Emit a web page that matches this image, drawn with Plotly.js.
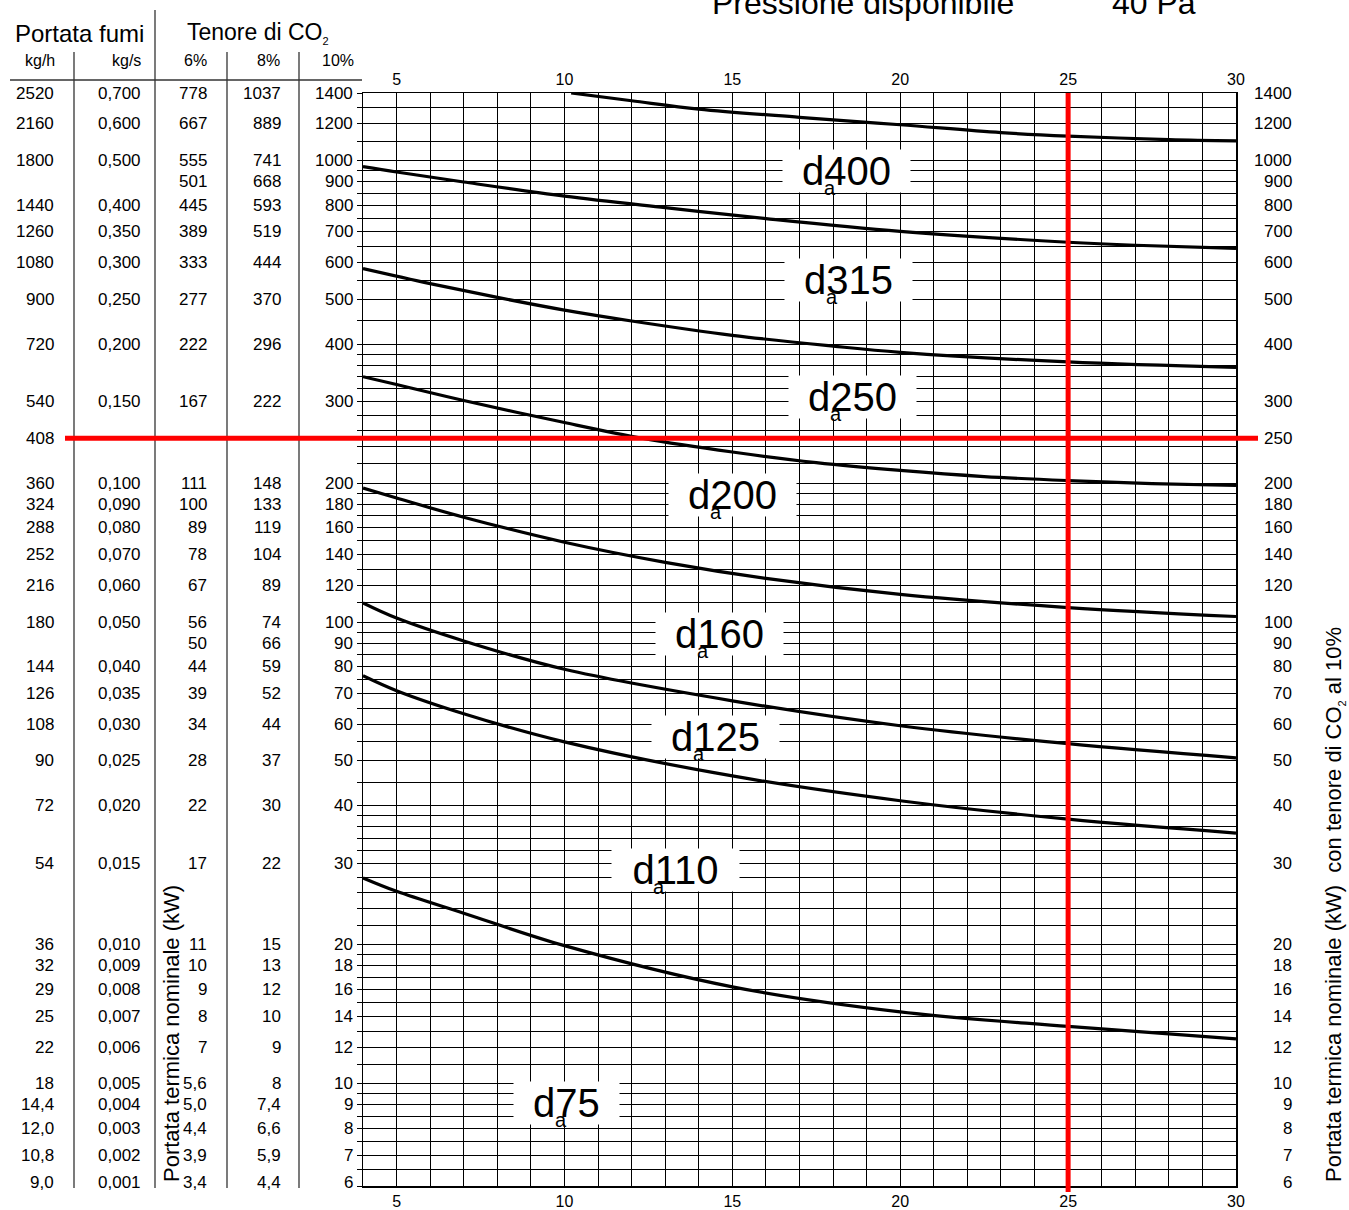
<!DOCTYPE html>
<html><head><meta charset="utf-8">
<script src="https://cdn.plot.ly/plotly-3.0.1.min.js"></script>
<style>html,body{margin:0;padding:0;background:#fff;}#chart{width:1349px;height:1210px;}</style>
</head><body><div id="chart"></div>
<script>
// ---- curve data (x: height, y: nominal heat input kW, CO2 10%) ----
const x_d400 = [10.2, 12, 14, 17, 20, 23, 25, 28, 30];
const y_d400 = [1400, 1347, 1292, 1240, 1195, 1149, 1129, 1110, 1103];
const x_d315 = [4, 5, 7, 10, 13, 16, 20, 25, 27, 30];
const y_d315 = [970, 944, 898, 837, 790, 748, 702, 665, 655, 645];
const x_d250 = [4, 6, 8, 10, 12, 15, 18, 20, 25, 30];
const y_d250 = [583, 541, 505, 474, 449, 418, 396, 384, 366, 356];
const x_d200 = [4, 5, 7, 10, 12.34, 15, 17.5, 20, 22.5, 25, 27.5, 30];
const y_d200 = [340, 327, 302, 270.5, 250, 233.5, 221.5, 213, 206.6, 202.5, 199.5, 197.6];
const x_d160 = [4, 5, 7, 10, 13, 16, 20, 25, 30];
const y_d160 = [195, 185.6, 168.7, 148.9, 134.7, 124.3, 114.8, 107.5, 102.8];
const x_d125 = [4, 5, 7, 10, 15, 20, 25, 30];
const y_d125 = [110, 102, 91, 79, 67.5, 59.6, 54.5, 50.8];
const x_d110 = [4, 5, 7, 10, 15, 20, 25, 30];
const y_d110 = [76.5, 71, 63.3, 55, 46.4, 41, 37.4, 34.9];
const x_d75 = [4, 5, 7, 10, 15, 20, 25, 30];
const y_d75 = [27.9, 26.1, 23.4, 19.9, 16.2, 14.3, 13.3, 12.5];

// ---- table / tick labels ----
const co2_10 = [1400,1200,1000,900,800,700,600,500,400,300,200,180,160,140,120,100,90,80,70,60,50,40,30,20,18,16,14,12,10,9,8,7,6];
const kgh = ['2520','2160','1800','','1440','1260','1080','900','720','540','360','324','288','252','216','180','','144','126','108','90','72','54','36','32','29','25','22','18','14,4','12,0','10,8','9,0'];
const kgs = ['0,700','0,600','0,500','','0,400','0,350','0,300','0,250','0,200','0,150','0,100','0,090','0,080','0,070','0,060','0,050','','0,040','0,035','0,030','0,025','0,020','0,015','0,010','0,009','0,008','0,007','0,006','0,005','0,004','0,003','0,002','0,001'];
const co2_6 = ['778','667','555','501','445','389','333','277','222','167','111','100','89','78','67','56','50','44','39','34','28','22','17','11','10','9','8','7','5,6','5,0','4,4','3,9','3,4'];
const co2_8 = ['1037','889','741','668','593','519','444','370','296','222','148','133','119','104','89','74','66','59','52','44','37','30','22','15','13','12','10','9','8','7,4','6,6','5,9','4,4'];
const extraRowValue = 250, extraRowKgh = '408';
const rightTicks = [1400,1200,1000,900,800,700,600,500,400,300,250,200,180,160,140,120,100,90,80,70,60,50,40,30,20,18,16,14,12,10,9,8,7,6];
const xTicks = [5,10,15,20,25,30];
const gridVals = [6,6.5,7,7.5,8,8.5,9,9.5,10,11,12,13,14,15,16,17,18,19,20,22,24,26,28,30,32,34,36,38,40,45,50,55,60,65,70,75,80,85,90,95,100,110,120,130,140,150,160,170,180,190,200,220,240,260,280,300,320,340,360,380,400,450,500,550,600,650,700,750,800,850,900,950,1000,1100,1200,1300,1400];
const curveNames = ['d400','d315','d250','d200','d160','d125','d110','d75'];
const selX = 25, selY = 250;

// ---- layout helpers ----
const FONT = 'Liberation Sans, Arial, Helvetica, sans-serif';
const W = 1349, H = 1210, X0 = 363, X1 = 1236, YT = 93, YB = 1186;
const pxX = px => (px - X0) / (X1 - X0);
const pxY = py => (YB - py) / (YB - YT);
const L = Math.log10;

const curvesX = [x_d400, x_d315, x_d250, x_d200, x_d160, x_d125, x_d110, x_d75];
const curvesY = [y_d400, y_d315, y_d250, y_d200, y_d160, y_d125, y_d110, y_d75];
const traces = curvesX.map((xs, i) => ({
  x: xs, y: curvesY[i], type: 'scatter', mode: 'lines', name: curveNames[i],
  xaxis: i === 0 ? 'x2' : 'x', yaxis: 'y',
  line: {color: '#000', width: 3.2, shape: 'spline', smoothing: 1},
  hoverinfo: 'skip', showlegend: false
}));

const ann = [];
const txt = (o) => ann.push(Object.assign({showarrow: false, font: {family: FONT, size: 17, color: '#000'}}, o));
const lift = v => (v === 6 ? 4 : 0);

// table rows (incl. 10% column)
const cols = [[kgh, 56], [kgs, 143], [co2_6, 209], [co2_8, 283], [co2_10.map(String), 355]];
co2_10.forEach((v, i) => {
  cols.forEach(([arr, edge]) => {
    if (arr[i]) txt({xref: 'paper', yref: 'y', x: pxX(edge), y: L(v), yshift: lift(v), xanchor: 'right', yanchor: 'middle', text: arr[i]});
  });
});
txt({xref: 'paper', yref: 'y', x: pxX(56), y: L(extraRowValue), xanchor: 'right', yanchor: 'middle', text: extraRowKgh});
// right labels
rightTicks.forEach(v => txt({xref: 'paper', yref: 'y', x: pxX(1294), y: L(v), yshift: lift(v), xanchor: 'right', yanchor: 'middle', text: String(v)}));
// headers
txt({xref: 'paper', yref: 'paper', x: pxX(13), y: pxY(33), xanchor: 'left', yanchor: 'middle', text: 'Portata fumi', font: {family: FONT, size: 24, color: '#000'}});
txt({xref: 'paper', yref: 'paper', x: pxX(185), y: pxY(33), xanchor: 'left', yanchor: 'middle', text: 'Tenore di CO<sub><span style="font-size:11px">2</span></sub>', font: {family: FONT, size: 23, color: '#000'}});
[['kg/h', 57], ['kg/s', 143], ['6%', 209], ['8%', 282], ['10%', 356]].forEach(([t, e]) =>
  txt({xref: 'paper', yref: 'paper', x: pxX(e), y: pxY(61), xanchor: 'right', yanchor: 'middle', text: t, font: {family: FONT, size: 16, color: '#000'}}));
// title (cut at top)
txt({xref: 'paper', yref: 'paper', x: pxX(710), y: pxY(3), xanchor: 'left', yanchor: 'middle', text: 'Pressione disponibile', font: {family: FONT, size: 32, color: '#000'}});
txt({xref: 'paper', yref: 'paper', x: pxX(1110), y: pxY(3), xanchor: 'left', yanchor: 'middle', text: '40 Pa', font: {family: FONT, size: 32, color: '#000'}});
// rotated titles
txt({xref: 'paper', yref: 'paper', x: pxX(171), y: pxY(1034), xanchor: 'center', yanchor: 'middle', textangle: -90, text: 'Portata termica nominale (kW)', font: {family: FONT, size: 22, color: '#000'}});
txt({xref: 'paper', yref: 'paper', x: pxX(1334), y: pxY(905), xanchor: 'center', yanchor: 'middle', textangle: -90, text: 'Portata termica nominale (kW)\u00a0\u00a0con tenore di CO<sub><span style="font-size:11px">2</span></sub> al 10%', font: {family: FONT, size: 22, color: '#000'}});
// curve labels d_a
const labelPos = [[18.41, 947.6], [18.47, 552], [18.59, 307.5], [14.99, 188.3], [14.63, 94.4], [14.51, 56.3], [13.32, 29.0], [10.05, 9.09]];
curveNames.forEach((n, i) => {
  const [lx, ly] = labelPos[i];
  const tw = 22.24 * n.length;
  txt({xref: 'x', yref: 'y', x: lx, y: L(ly), xanchor: 'center', yanchor: 'middle', text: n,
       font: {family: FONT, size: 40, color: '#000'}, bgcolor: '#fff', borderpad: 0, width: tw + 38, height: 42});
  txt({xref: 'x', yref: 'y', x: lx, y: L(ly), xanchor: 'center', yanchor: 'middle', text: 'a',
       xshift: -tw / 2 + 28, yshift: -17, font: {family: FONT, size: 20, color: '#000'}});
});

const shapes = [
  // table rules
  {type: 'line', xref: 'paper', yref: 'paper', x0: pxX(10), x1: pxX(362), y0: pxY(80), y1: pxY(80), line: {color: '#333', width: 1.3}},
  {type: 'line', xref: 'paper', yref: 'paper', x0: pxX(74), x1: pxX(74), y0: pxY(52), y1: pxY(1188), line: {color: '#333', width: 1.3}},
  {type: 'line', xref: 'paper', yref: 'paper', x0: pxX(155), x1: pxX(155), y0: pxY(10), y1: pxY(1188), line: {color: '#333', width: 1.3}},
  {type: 'line', xref: 'paper', yref: 'paper', x0: pxX(227), x1: pxX(227), y0: pxY(52), y1: pxY(1188), line: {color: '#333', width: 1.3}},
  {type: 'line', xref: 'paper', yref: 'paper', x0: pxX(299), x1: pxX(299), y0: pxY(52), y1: pxY(1188), line: {color: '#333', width: 1.3}},
  // red selection lines
  {type: 'line', xref: 'x', yref: 'paper', x0: selX, x1: selX, y0: pxY(1192), y1: 1, line: {color: '#ff0000', width: 5}},
  {type: 'line', xref: 'paper', yref: 'y', x0: pxX(65), x1: pxX(1258), y0: selY, y1: selY, line: {color: '#ff0000', width: 5}}
];

const layout = {
  width: W, height: H, autosize: false,
  margin: {l: X0, r: W - X1, t: YT, b: H - YB, pad: 0},
  paper_bgcolor: '#fff', plot_bgcolor: '#fff',
  font: {family: FONT, size: 16, color: '#000'},
  showlegend: false,
  xaxis: {range: [4, 30], tickvals: xTicks, ticktext: xTicks.map(String), ticks: '', showgrid: true, gridcolor: '#000', gridwidth: 1,
          minor: {dtick: 1, tick0: 0, showgrid: true, gridcolor: '#000', gridwidth: 1, ticks: ''},
          showline: true, linecolor: '#000', linewidth: 1.5, zeroline: false, tickfont: {size: 16}, fixedrange: true},
  xaxis2: {range: [4, 30], overlaying: 'x', side: 'top', anchor: 'y', tickvals: xTicks, ticktext: xTicks.map(String), ticks: '', showgrid: false,
           showline: true, linecolor: '#000', linewidth: 1.5, zeroline: false, tickfont: {size: 16}, fixedrange: true},
  yaxis: {type: 'log', range: [L(6), L(1400)], tickvals: gridVals, showticklabels: false,
          ticks: 'outside', ticklen: 5, tickcolor: '#000', tickwidth: 1, showgrid: true, gridcolor: '#000', gridwidth: 1,
          showline: true, mirror: true, linecolor: '#000', linewidth: 1.5, zeroline: false, fixedrange: true},
  annotations: ann,
  shapes: shapes
};

Plotly.newPlot('chart', traces, layout, {staticPlot: true, displayModeBar: false});
</script>
</body></html>
